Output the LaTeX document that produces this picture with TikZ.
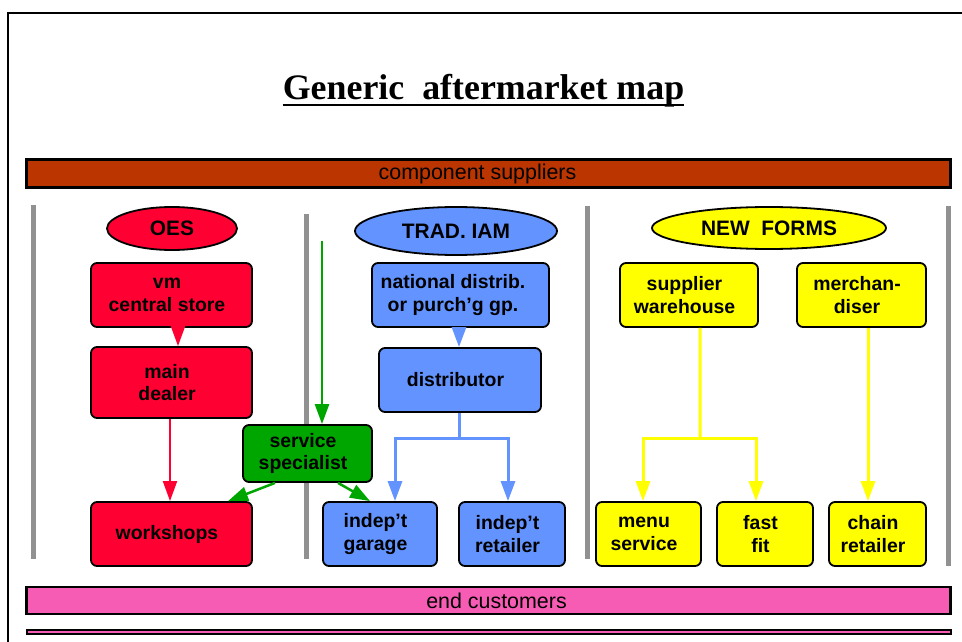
\documentclass[tikz,border=0pt]{standalone}
\usepackage{fontspec}
\setmainfont{Liberation Serif}
\setsansfont{Liberation Sans}
\usetikzlibrary{shapes.geometric,arrows.meta}
\definecolor{oesred}{HTML}{FF0033}
\definecolor{iamblue}{HTML}{6293FF}
\definecolor{nfyellow}{HTML}{FFFF00}
\definecolor{ssgreen}{HTML}{00A600}
\definecolor{supbrown}{HTML}{BB3500}
\definecolor{custpink}{HTML}{F75CB5}
\definecolor{sepgray}{HTML}{919191}
\newcommand\rk{\kern9bp}
\newcommand\rkk{\kern15bp}
\tikzset{
  box/.style={draw=black, line width=1.8bp, rounded corners=6bp, inner sep=0pt,
    font=\sffamily\bfseries\fontsize{19.5}{22.5}\selectfont, align=center},
  ell/.style={ellipse, draw=black, line width=1.8bp, inner sep=0pt,
    font=\sffamily\bfseries\fontsize{21}{24}\selectfont},
  bar/.style={draw=black, line width=2.2bp, inner sep=0pt,
    font=\sffamily\fontsize{21.5}{24}\selectfont},
  sepline/.style={line width=5bp, draw=sepgray},
  tip/.style={-{Triangle[width=14bp,length=20bp]}},
  redarr/.style={tip, draw=oesred, fill=oesred, line width=2bp},
  greenarr/.style={tip, draw=ssgreen, fill=ssgreen, line width=2.5bp},
  bluearr/.style={tip, draw=iamblue, line width=3bp},
  yelarr/.style={tip, draw=nfyellow, line width=3bp},
}
\begin{document}
\begin{tikzpicture}[x=1bp,y=-1bp]
\useasboundingbox (0,0) rectangle (962,642);
\fill[white] (0,0) rectangle (962,642);
% outer frame
\draw[line width=2bp] (8,642) -- (8,13) -- (962,13);
% title
\node[anchor=base, inner sep=0pt, font=\bfseries\fontsize{36}{40}\selectfont] (title) at (483.5,100) {Generic\ \ aftermarket map};
\draw[line width=2.5bp] ([yshift=-5bp]title.base west) -- ([yshift=-5bp]title.base east);
% bars
\node[bar, fill=supbrown, minimum width=924bp, minimum height=28bp] (cs) at (488.5,173.5) {component suppliers\kern22bp};
\node[bar, fill=custpink, minimum width=924bp, minimum height=27bp] (ec) at (488.5,600.5) {\kern16bp end customers};
\fill[custpink, draw=black, line width=1.2bp] (27,630) rectangle (951,634);
% separators
\draw[sepline] (33,205) -- (33,559);
\draw[sepline] (306,214) -- (306,559);
\draw[sepline] (587,206) -- (587,559);
\draw[sepline] (948,206) -- (948,566);
% ellipses
\node[ell, fill=oesred, minimum width=130bp, minimum height=43bp] (oes) at (172,228.5) {OES};
\node[ell, fill=iamblue, minimum width=202bp, minimum height=48bp] (iam) at (456,231) {TRAD. IAM};
\node[ell, fill=nfyellow, minimum width=234bp, minimum height=42bp] (nf) at (769,228) {NEW\ \ FORMS};
% OES boxes
\node[box, fill=oesred, minimum width=161bp, minimum height=64bp] (vm) at (171.5,295) {vm\rk\\central store\rk};
\node[box, fill=oesred, minimum width=161bp, minimum height=71bp] (md) at (171.5,382.5) {main\rk\\dealer\rk};
\node[box, fill=oesred, minimum width=161bp, minimum height=64bp] (ws) at (171.5,534) {workshops\rk};
% service specialist
\node[box, fill=ssgreen, minimum width=129bp, minimum height=57bp] (ss) at (307.5,453.5) {service\rk\\specialist\rk};
% IAM boxes
\node[box, fill=iamblue, minimum width=177bp, minimum height=64bp] (nd) at (460.5,295) {national distrib.\rkk\\or purch'g gp.\rkk};
\node[box, fill=iamblue, minimum width=162bp, minimum height=64bp] (dist) at (460,380) {distributor\rk};
\node[box, fill=iamblue, minimum width=114bp, minimum height=64bp] (ig) at (380,534) {indep't\rk\\garage\rk};
\node[box, fill=iamblue, minimum width=106bp, minimum height=64bp] (ir) at (512,534) {indep't\rk\\retailer\rk};
% new forms boxes
\node[box, fill=nfyellow, minimum width=138bp, minimum height=64bp] (sw) at (689,295) {supplier\rk\\warehouse\rk};
\node[box, fill=nfyellow, minimum width=129bp, minimum height=64bp] (mer) at (861.5,295) {merchan-\rk\\diser\rk};
\node[box, fill=nfyellow, minimum width=105bp, minimum height=64bp] (ms) at (648.5,534) {menu\rk\\service\rk};
\node[box, fill=nfyellow, minimum width=96bp, minimum height=64bp] (ff) at (765,534) {fast\rk\\fit\rk};
\node[box, fill=nfyellow, minimum width=97bp, minimum height=64bp] (cr) at (877.5,534) {chain\rk\\retailer\rk};
% red connectors
\draw[redarr] ([xshift=6.5bp]vm.south) -- ([xshift=6.5bp]md.north);
\draw[redarr] ([xshift=-1.5bp]md.south) -- ([xshift=-1.5bp]ws.north);
% green connectors
\coordinate (gtop) at (322,241);
\draw[greenarr] (gtop) -- (gtop |- ss.north);
\draw[greenarr] ([xshift=-32.5bp]ss.south) -- ([xshift=56.5bp]ws.north);
\draw[greenarr] ([xshift=30.5bp]ss.south) -- ([xshift=-10bp]ig.north);
% blue connectors
\draw[bluearr] ([xshift=-1.5bp]nd.south) -- ([xshift=-1bp]dist.north);
\coordinate (bj) at (459,438);
\draw[iamblue, line width=3bp] ([xshift=-1bp]dist.south) -- (bj);
\draw[bluearr] (bj) -| ([xshift=15bp]ig.north);
\draw[bluearr] (bj) -| ([xshift=-4bp]ir.north);
% yellow connectors
\coordinate (yj) at (700,438);
\draw[nfyellow, line width=3bp] ([xshift=11bp]sw.south) -- (yj);
\draw[yelarr] (yj) -| ([xshift=-5.5bp]ms.north);
\draw[yelarr] (yj) -| ([xshift=-9bp]ff.north);
\draw[yelarr] ([xshift=6.5bp]mer.south) -- ([xshift=6.5bp]mer.south |- cr.north);
\end{tikzpicture}
\end{document}
